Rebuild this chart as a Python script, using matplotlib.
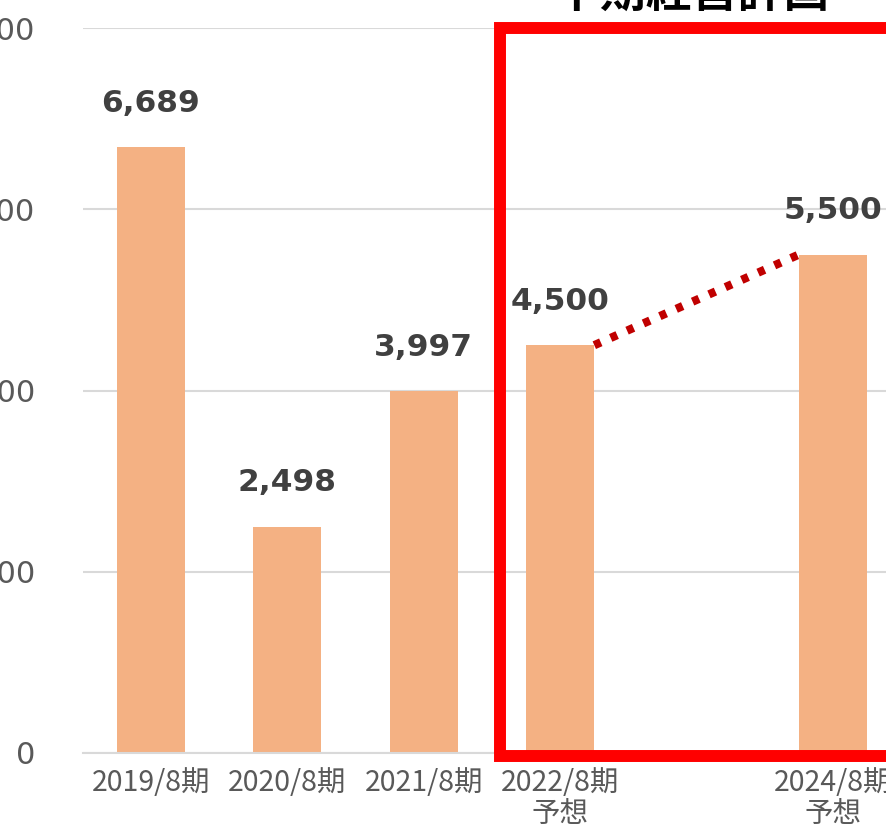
import numpy as np
import matplotlib.pyplot as plt

# 期ごとの値 (2023/8期 は空き)
categories = ['2019/8期', '2020/8期', '2021/8期', '2022/8期\n予想', '', '2024/8期\n予想']
values = [6689, 2498, 3997, 4500, np.nan, 5500]
y_ticks = [0, 2000, 4000, 6000, 8000]
box_title = '中期経営計画'

plt.rcParams['font.family'] = ['Noto Sans CJK JP', 'DejaVu Sans']

fig = plt.figure(figsize=(8.87, 8.27), dpi=100)
W, H = 887, 827
# 元画像は左右が切れているので、軸を図の外まではみ出させる
ax = fig.add_axes([82.8 / W, 74 / H, 818.4 / W, 725 / H])

x = np.arange(len(categories))
bars = ax.bar(x, values, width=0.5, color='#F4B183', zorder=2)

for xi, v in zip(x, values):
    if np.isnan(v):
        continue
    ax.annotate(f'{int(v):,}', (xi, v), xytext=(0, 21), textcoords='offset points',
                ha='center', va='bottom', fontsize=22.5, fontweight='bold',
                color='#404040', family='DejaVu Sans')

# 2022 -> 2024 の点線
ax.plot([3.25, 4.75], [values[3], values[5]], color='#C00000', lw=6,
        linestyle=(0, (0.85, 1.3)), dash_capstyle='butt', zorder=3)

ax.set_xlim(-0.5, 5.5)
ax.set_ylim(0, 8000)
ax.set_yticks(y_ticks)
ax.set_yticklabels([f'{t:,}' for t in y_ticks], family='DejaVu Sans')
ax.set_xticks(x)
ax.set_xticklabels(categories, linespacing=1.05)
ax.tick_params(axis='y', length=0, pad=34, labelsize=22, labelcolor='#595959')
ax.tick_params(axis='x', length=0, pad=11, labelsize=20.5, labelcolor='#595959')

ax.grid(axis='y', color='#D9D9D9', lw=1.5, zorder=0)
for s in ['top', 'right', 'left']:
    ax.spines[s].set_visible(False)
ax.spines['bottom'].set_color('#D9D9D9')
ax.spines['bottom'].set_linewidth(1.5)

# 中期経営計画の赤枠 (右側は画像の外)
x0, x1, y0, y1 = 2.559, 6.5, -28, 8000
ax.plot([x1, x0, x0, x1], [y1, y1, y0, y0], color='#FF0000', lw=8.6,
        solid_joinstyle='miter', solid_capstyle='projecting', clip_on=False, zorder=4)
fig.text(692 / W, 1 - 17 / H, box_title, ha='center', va='bottom',
         fontsize=33, fontweight='bold', color='black')

fig.savefig('out.png', dpi=100)
